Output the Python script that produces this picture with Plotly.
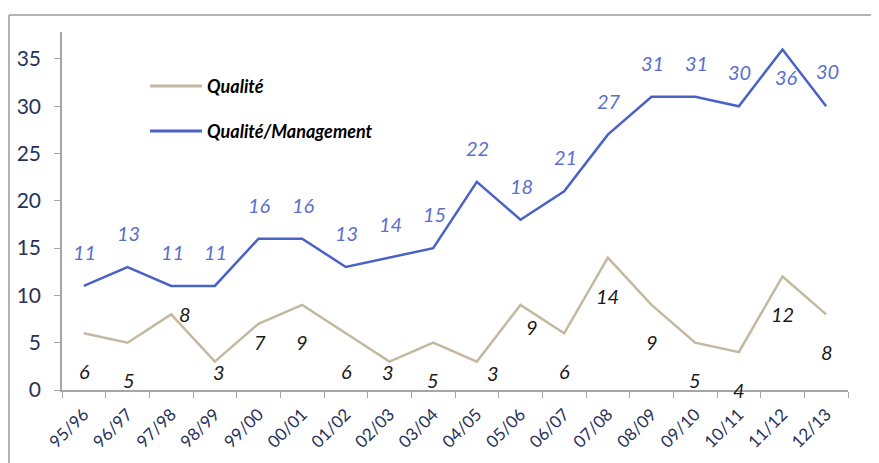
import plotly.graph_objects as go

categories = ["95/96", "96/97", "97/98", "98/99", "99/00", "00/01", "01/02", "02/03", "03/04",
              "04/05", "05/06", "06/07", "07/08", "08/09", "09/10", "10/11", "11/12", "12/13"]
qualite = [6, 5, 8, 3, 7, 9, 6, 3, 5, 3, 9, 6, 14, 9, 5, 4, 12, 8]
qualite_management = [11, 13, 11, 11, 16, 16, 13, 14, 15, 22, 18, 21, 27, 31, 31, 30, 36, 30]

# label offsets in pixels (dx, dy) relative to the data point
q_offsets = [(1, -38), (1, -37), (14, 0), (4, -10), (1, -18), (0, -37), (1, -38), (-2, -10), (0, -37),
             (16, -11), (11, -22), (0, -38), (0, -38), (0, -37), (0, -37), (0, -38), (0, -37), (1, -38)]
qm_offsets = [(1, 34)] * 16 + [(4, -27), (1, 35)]

BEIGE = "#C4B9A0"
BLUE = "#4A62C6"
BLUE_TXT = "#5A70CC"
TICK_TXT = "#283158"
AXIS = "#A6A6A6"
FONT = "Lato"

fig = go.Figure()
fig.add_trace(go.Scatter(x=categories, y=qualite, mode="lines", name="Qualité",
                         line=dict(color=BEIGE, width=2.5)))
fig.add_trace(go.Scatter(x=categories, y=qualite_management, mode="lines", name="Qualité/Management",
                         line=dict(color=BLUE, width=2.5)))

annotations = []
for c, v, (dx, dy) in zip(categories, qualite, q_offsets):
    annotations.append(dict(x=c, y=v, xref="x", yref="y", text=str(v), showarrow=False,
                            xshift=dx, yshift=dy,
                            font=dict(family=FONT, size=20, color="#1A1A1A", style="italic")))
for c, v, (dx, dy) in zip(categories, qualite_management, qm_offsets):
    annotations.append(dict(x=c, y=v, xref="x", yref="y", text=str(v), showarrow=False,
                            xshift=dx, yshift=dy,
                            font=dict(family=FONT, size=20, color=BLUE_TXT, style="italic")))

# page body has an 8px margin; compensate so screen coordinates match
OFF = 8
W, H = 879 - OFF, 463 - OFF
L, R, T, B = 62 - OFF, 31, 32 - OFF, 73
pw, ph = W - L - R, H - T - B
def px(x):
    return (x - OFF - L) / pw
def py(y):
    return (H - B - (y - OFF)) / ph

shapes = []
for name, col, yy in [("Qualité", BEIGE, 86), ("Qualité/Management", BLUE, 131)]:
    shapes.append(dict(type="line", xref="paper", yref="paper", x0=px(150), x1=px(202),
                       y0=py(yy), y1=py(yy), line=dict(color=col, width=3)))
    annotations.append(dict(xref="paper", yref="paper", x=px(205), y=py(yy), xanchor="left",
                            yanchor="middle", showarrow=False,
                            text="<b><i>" + name + "</i></b>",
                            font=dict(family=FONT, size=18, color="#000000")))

# outer border (top and left)
shapes.append(dict(type="line", xref="paper", yref="paper", x0=px(9), x1=px(880),
                   y0=py(15), y1=py(15), line=dict(color="#9A9A9A", width=1.5)))
shapes.append(dict(type="line", xref="paper", yref="paper", x0=px(9), x1=px(9),
                   y0=py(15), y1=py(464), line=dict(color="#9A9A9A", width=1.5)))

fig.update_layout(
    width=W, height=H,
    margin=dict(l=L, r=R, t=T, b=B, autoexpand=False),
    paper_bgcolor="white", plot_bgcolor="white",
    showlegend=False,
    annotations=annotations,
    shapes=shapes,
    xaxis=dict(type="category", range=[-0.5, 17.5], tickson="boundaries", ticks="outside",
               ticklen=6, tickcolor=AXIS, showline=True, linecolor=AXIS, linewidth=1.5,
               showgrid=False, tickangle=-45, automargin=False, ticklabelstandoff=6,
               tickfont=dict(family=FONT, size=17, color=TICK_TXT)),
    yaxis=dict(range=[0, 37.85], tickvals=[0, 5, 10, 15, 20, 25, 30, 35], ticks="outside",
               ticklen=6, tickcolor=AXIS, showline=True, linecolor=AXIS, linewidth=1.5,
               showgrid=False, zeroline=False, automargin=False, ticklabelstandoff=9,
               tickfont=dict(family=FONT, size=21, color=TICK_TXT)),
)

fig.write_html("out.html")
